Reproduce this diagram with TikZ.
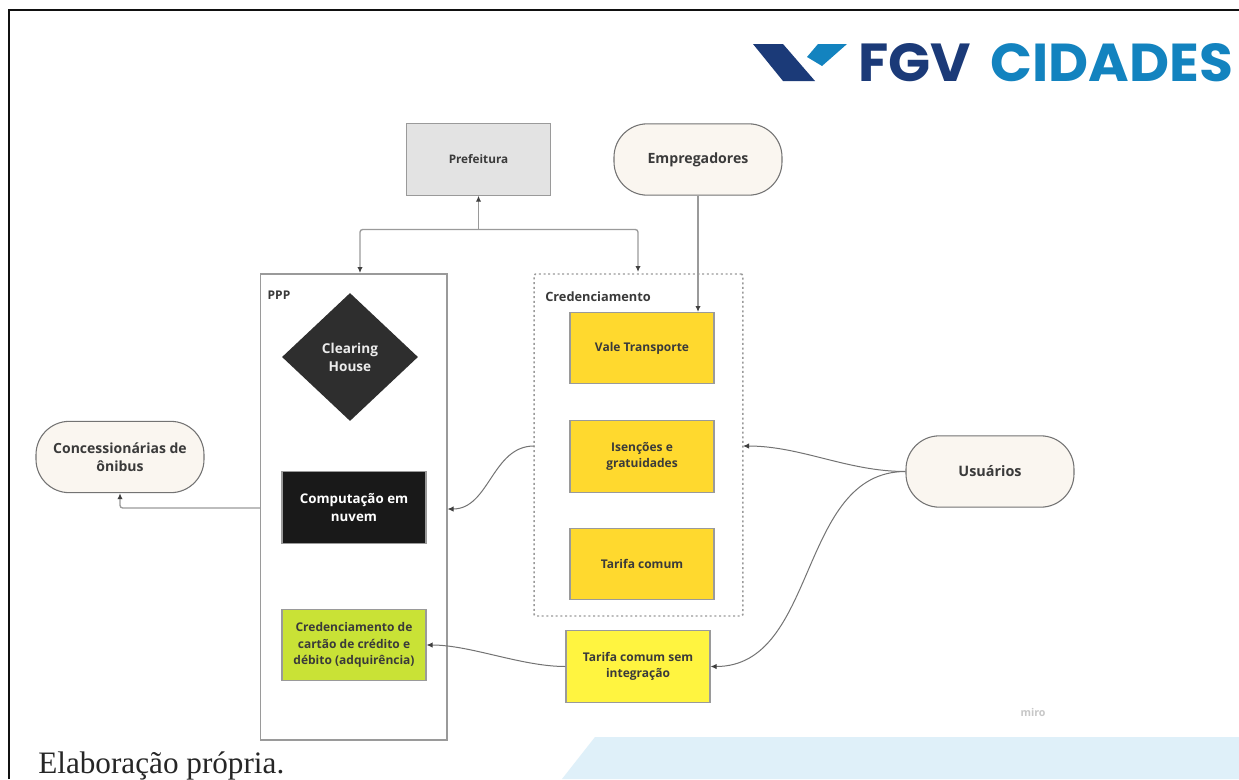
\documentclass[tikz,border=0pt]{standalone}
\usepackage{fontspec}
\usepackage{graphicx}
\usetikzlibrary{arrows.meta,shapes.geometric,calc}
\setmainfont{Open Sans}
\newfontfamily\serifcap{Liberation Serif}
\newfontfamily\logofont{Poppins}[UprightFont=* Bold]
\definecolor{frameblack}{HTML}{111111}
\definecolor{cream}{HTML}{FAF6F0}
\definecolor{edgegray}{HTML}{9A9A9A}
\definecolor{inktext}{HTML}{3A3A3A}
\definecolor{amber}{HTML}{FFD92E}
\definecolor{brightyellow}{HTML}{FFF440}
\definecolor{lime}{HTML}{C9E236}
\definecolor{fgvdark}{HTML}{1B3A78}
\definecolor{fgvlight}{HTML}{1383BF}
\definecolor{wash}{HTML}{DFF0F9}
\tikzset{
  x=.75pt,y=-.75pt,
  txt/.style={font=\bfseries\fontsize{10pt}{13pt}\selectfont,text=inktext,align=center,inner sep=0pt},
  smalltxt/.style={font=\bfseries\fontsize{9pt}{12.4pt}\selectfont,text=inktext,align=center,inner sep=0pt},
  sizedbox/.style={draw=edgegray,line width=.8pt,minimum width=108pt,minimum height=53.5pt,inner sep=0pt},
  pill/.style={sizedbox,txt,rounded corners=25pt,fill=cream,minimum width=126pt,draw=black!55},
  lnk/.style={draw=edgegray,line width=1pt,-{Latex[length=4.5pt,width=4pt,color=black!75]},rounded corners=2pt},
  lnkthin/.style={draw=black!55,line width=.75pt,-{Latex[length=4.5pt,width=4pt,color=black!75]}},
}
\begin{document}
\begin{tikzpicture}
\useasboundingbox (0,0) rectangle (1239,779);
\fill[white] (0,0) rectangle (1239,779);
% slide backdrop
\fill[wash] (595,737) -- (1239,737) -- (1239,779) -- (562,779) -- cycle;
\draw[frameblack,line width=1.6pt] (9,779) -- (9,10) -- (1239,10);
% logo
\fill[fgvdark] (753,44) -- (783,44) -- (815,81) -- (783,81) -- cycle;
\fill[fgvlight] (847,44) -- (818,44) -- (807,57) -- (822,66) -- cycle;
\node[anchor=west,inner sep=0pt,text=fgvdark] (logoa) at (858,62.5) {\resizebox{84.5pt}{28.5pt}{\logofont FGV}};
\node[anchor=west,inner sep=0pt,text=fgvlight] (logob) at (990,62.5) {\resizebox{182pt}{28.5pt}{\logofont CIDADES}};
% containers
\node[draw=edgegray,line width=1pt,minimum width=140pt,minimum height=349.5pt,inner sep=0pt] (ppp) at (353.5,507) {};
\node[draw=edgegray,line width=1.1pt,dash pattern=on 1.5pt off 2pt,minimum width=156.5pt,minimum height=256.5pt,inner sep=0pt,rounded corners=1pt] (cred) at (638.5,445) {};
\node[smalltxt] (ppplabel) at (279,295.5) {PPP};
\node[txt,anchor=west,font=\bfseries\fontsize{9.6pt}{13pt}\selectfont] (credlabel) at (545,297) {Credenciamento};
% nodes
\node[sizedbox,txt,fill=black!11] (pref) at (478.5,159.5) {\fontsize{8.8pt}{12pt}\selectfont Prefeitura};
\node[pill,font=\bfseries\fontsize{10.6pt}{13pt}\selectfont] (emp) at (698,159.5) {Empregadores};
\node[pill,font=\bfseries\fontsize{10.5pt}{13.6pt}\selectfont] (onibus) at (120,457) {Concessionárias de\\ônibus};
\node[pill,font=\bfseries\fontsize{10.8pt}{13pt}\selectfont] (usu) at (990,471.5) {Usuários};
\node[diamond,fill=black!82,draw=none,minimum width=102pt,minimum height=96pt,inner sep=0pt,txt,text=white!92!black,font=\bfseries\fontsize{10.2pt}{13.4pt}\selectfont] (clear) at (350,357) {Clearing\\House};
\node[sizedbox,txt,fill=black!90,text=white] (nuvem) at (354,507.5) {Computação em\\nuvem};
\node[sizedbox,smalltxt,fill=lime] (adq) at (354,645) {Credenciamento de\\cartão de crédito e\\débito (adquirência)};
\node[sizedbox,smalltxt,fill=amber] (vale) at (642,348) {Vale Transporte};
\node[sizedbox,smalltxt,fill=amber] (isen) at (642,456.5) {Isenções e\\gratuidades};
\node[sizedbox,smalltxt,fill=amber] (tar) at (642,564) {Tarifa comum};
\node[sizedbox,smalltxt,fill=brightyellow] (tarsem) at (638,666.5) {Tarifa comum sem\\integração};
\node[font=\bfseries\fontsize{8pt}{10pt}\selectfont,text=black!22,inner sep=0pt] (miro) at (1033,712) {miro};
\node[anchor=base west,inner sep=0pt,font=\serifcap\fontsize{23.4pt}{26pt}\selectfont,text=black!85] (cap) at (38,773) {Elaboração própria.};
% connectors
\coordinate (junction) at (478.5,229.5);
\coordinate (pppin) at (360,273);
\coordinate (credin) at (638,272);
\coordinate (valein) at (698,312);
\coordinate (pppout) at (260,508);
\coordinate (pppin2) at (447.5,509);
\coordinate (credout) at (534,446);
\coordinate (credin2) at (743,446);
\draw[lnk] (junction) -- (pref.south);
\draw[lnk] (junction) -| (pppin);
\draw[lnk] (junction) -| (credin);
\draw[lnk] (emp.south) -- (valein);
\draw[lnk] (pppout) -| (onibus.south);
\draw[lnkthin] (credout) to[out=180,in=0,looseness=1] (pppin2);
\draw[lnkthin] (usu.west) to[out=180,in=0,looseness=.9] (credin2);
\draw[lnkthin] (usu.west) to[out=180,in=0,looseness=1] (tarsem.east);
\draw[lnkthin] (tarsem.west) to[out=180,in=0,looseness=.8] (adq.east);
\end{tikzpicture}
\end{document}
